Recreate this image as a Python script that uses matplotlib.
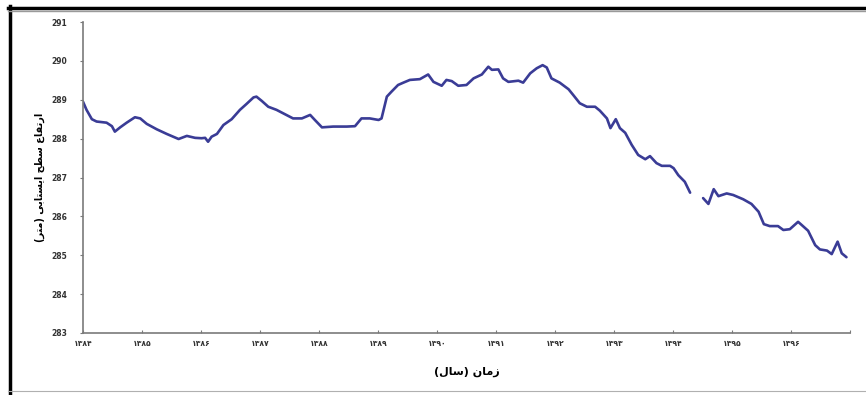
import matplotlib
matplotlib.use("Agg")
import matplotlib.pyplot as plt
from matplotlib.lines import Line2D

# Water-table elevation (m) against time (solar hijri years)
t_part1 = [1384.00, 1384.06, 1384.15, 1384.23, 1384.40, 1384.49, 1384.54, 1384.63,
           1384.74, 1384.88, 1384.97, 1385.08, 1385.25, 1385.42, 1385.62, 1385.76,
           1385.90, 1386.01, 1386.07, 1386.12, 1386.18, 1386.27, 1386.38, 1386.52,
           1386.66, 1386.77, 1386.89, 1386.94, 1387.03, 1387.14, 1387.28, 1387.42,
           1387.56, 1387.71, 1387.85, 1387.93, 1388.05, 1388.24, 1388.47, 1388.61,
           1388.72, 1388.86, 1389.01, 1389.06, 1389.15, 1389.23, 1389.34, 1389.43,
           1389.54, 1389.71, 1389.85, 1389.94, 1390.08, 1390.16, 1390.25, 1390.36,
           1390.50, 1390.62, 1390.76, 1390.87, 1390.93, 1391.04, 1391.12, 1391.21,
           1391.38, 1391.46, 1391.58, 1391.69, 1391.79, 1391.86, 1391.94, 1392.08,
           1392.23, 1392.31, 1392.42, 1392.54, 1392.68, 1392.76, 1392.88, 1392.94,
           1393.03, 1393.10, 1393.19, 1393.30, 1393.41, 1393.53, 1393.61, 1393.72,
           1393.81, 1393.95, 1394.01, 1394.09, 1394.20, 1394.29]
level_part1 = [288.95, 288.74, 288.50, 288.44, 288.41, 288.32, 288.18, 288.29,
               288.41, 288.55, 288.52, 288.38, 288.24, 288.12, 287.99, 288.07,
               288.02, 288.01, 288.02, 287.92, 288.05, 288.12, 288.35, 288.50,
               288.74, 288.89, 289.06, 289.08, 288.97, 288.82, 288.74, 288.63,
               288.52, 288.52, 288.61, 288.48, 288.29, 288.31, 288.31, 288.32,
               288.52, 288.52, 288.48, 288.52, 289.08, 289.21, 289.38, 289.44,
               289.51, 289.53, 289.65, 289.46, 289.36, 289.51, 289.48, 289.36,
               289.38, 289.55, 289.65, 289.85, 289.77, 289.78, 289.55, 289.46,
               289.49, 289.44, 289.68, 289.81, 289.89, 289.83, 289.55, 289.44,
               289.27, 289.12, 288.91, 288.82, 288.82, 288.72, 288.52, 288.27,
               288.50, 288.27, 288.15, 287.84, 287.58, 287.47, 287.55, 287.37,
               287.30, 287.30, 287.24, 287.06, 286.89, 286.61]

t_part2 = [1394.51, 1394.60, 1394.69, 1394.77, 1394.91, 1395.02, 1395.19, 1395.33,
           1395.45, 1395.54, 1395.64, 1395.78, 1395.87, 1395.98, 1396.12, 1396.18,
           1396.29, 1396.41, 1396.49, 1396.61, 1396.69, 1396.79, 1396.86, 1396.94]
level_part2 = [286.47, 286.32, 286.70, 286.52, 286.59, 286.55, 286.44, 286.32,
               286.12, 285.80, 285.75, 285.75, 285.65, 285.67, 285.86, 285.78,
               285.63, 285.26, 285.15, 285.12, 285.03, 285.35, 285.05, 284.95]

year_ticks = list(range(1384, 1398))
year_labels = ["۱۳۸۴", "۱۳۸۵", "۱۳۸۶", "۱۳۸۷", "۱۳۸۸", "۱۳۸۹", "۱۳۹۰",
               "۱۳۹۱", "۱۳۹۲", "۱۳۹۳", "۱۳۹۴", "۱۳۹۵", "۱۳۹۶", ""]
level_ticks = list(range(283, 292))

# Persian axis titles, written in shaped (presentation) forms, visual order
x_title = "(\uFEDD\uFE8E\uFEB3) \uFEE5\uFE8E\uFEE3\uFEAF"
y_title = ("(\uFEAE\uFE98\uFEE3) \uFEF0\uFE91\uFE8E\uFE98\uFEB4\uFEF3\uFE8D "
           "\uFEA2\uFEC4\uFEB3 \uFEC9\uFE8E\uFED4\uFE97\uFEAD\uFE8D")

plt.rcParams["font.family"] = ["DejaVu Sans"]

fig = plt.figure(figsize=(8.66, 3.95), dpi=100)
ax = fig.add_axes([83 / 866, 62 / 395, 767 / 866, 311 / 395])

line_color = "#3a3c96"
ax.plot(t_part1, level_part1, color=line_color, lw=1.9, solid_joinstyle="round",
        solid_capstyle="round")
ax.plot(t_part2, level_part2, color=line_color, lw=1.9, solid_joinstyle="round",
        solid_capstyle="round")

ax.set_xlim(1384, 1397)
ax.set_ylim(283, 291)
ax.set_xticks(year_ticks)
ax.set_xticklabels(year_labels)
ax.set_yticks(level_ticks)
ax.set_yticklabels([str(v) for v in level_ticks])

for side in ("top", "right"):
    ax.spines[side].set_visible(False)
for side in ("left", "bottom"):
    ax.spines[side].set_color("#7a7a7a")
    ax.spines[side].set_linewidth(1.2)

ax.tick_params(axis="x", direction="in", length=2.5, width=0.8, color="#7a7a7a",
               pad=4, labelsize=5.5, labelcolor="#333333")
ax.tick_params(axis="y", direction="out", length=2.5, width=0.8, color="#7a7a7a",
               pad=9, labelsize=5.5, labelcolor="#333333")
for lbl in ax.get_xticklabels() + ax.get_yticklabels():
    lbl.set_fontweight("bold")

ax.set_xlabel(x_title, fontsize=8, fontweight="bold", labelpad=14)
ax.set_ylabel(y_title, fontsize=7, fontweight="bold", labelpad=4)

# Frame around the figure
fig.add_artist(Line2D([9.5 / 866, 9.5 / 866], [0, 1 - 6 / 395], color="black",
                      lw=2.5, transform=fig.transFigure))
fig.add_artist(Line2D([8 / 866, 1], [1 - 8 / 395, 1 - 8 / 395], color="black",
                      lw=2.5, transform=fig.transFigure))
fig.add_artist(Line2D([8 / 866, 1], [1 - 10.5 / 395, 1 - 10.5 / 395], color="#9a9a9a",
                      lw=1.0, transform=fig.transFigure))
fig.add_artist(Line2D([8 / 866, 1], [4 / 395, 4 / 395], color="#b0b0b0",
                      lw=0.8, transform=fig.transFigure))

fig.savefig("out.png", dpi=100)
